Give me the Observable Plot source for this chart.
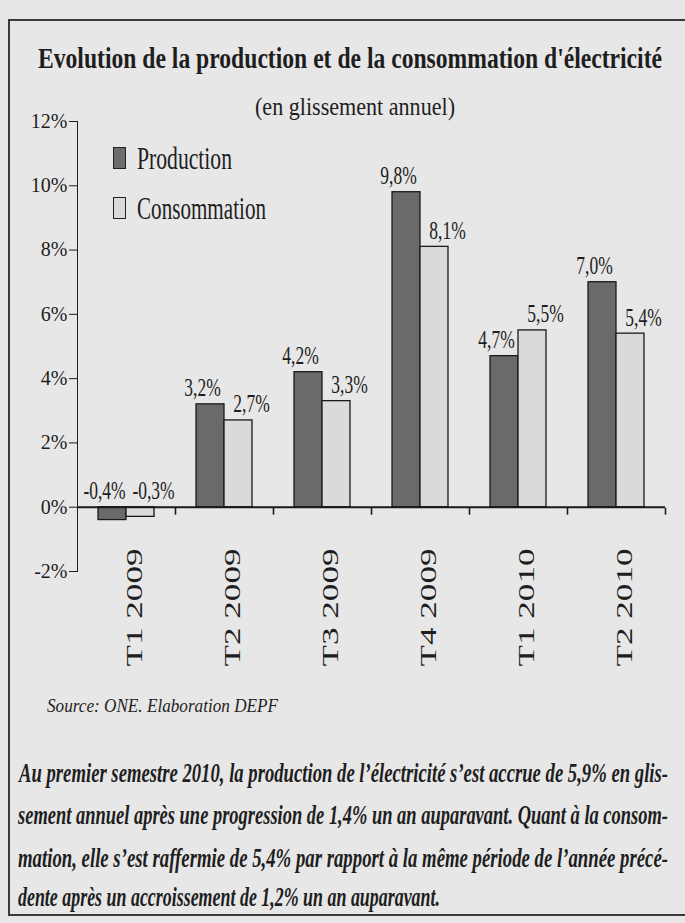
<!DOCTYPE html>
<html><head><meta charset="utf-8">
<script src="https://cdn.jsdelivr.net/npm/d3@7"></script>
<script src="https://cdn.jsdelivr.net/npm/@observablehq/plot@0.6"></script>
<style>
html,body{margin:0;padding:0;}
body{width:685px;height:923px;background:#e7e7e7;position:relative;overflow:hidden;font-family:"Liberation Serif",serif;color:#1e1e1e;}
.box{position:absolute;left:8px;top:19px;width:690px;height:897px;border:2.5px solid #3a3a3a;box-sizing:border-box;}
.fit{position:absolute;white-space:nowrap;transform-origin:0 50%;line-height:1;}
#chart{position:absolute;left:0;top:100px;}
.sw{position:absolute;width:13px;height:22px;border:1.5px solid #222;box-sizing:border-box;}
</style></head><body>
<div class="box"></div>
<div id="chart"></div>
<div id="title" class="fit" style="font-weight:bold;font-size:30px;">Evolution de la production et de la consommation d'électricité</div>
<div id="subtitle" class="fit" style="font-size:25px;">(en glissement annuel)</div>
<div class="sw" style="left:113px;top:147px;background:#6c6c6c;"></div>
<div id="lg1" class="fit" style="font-size:32px;">Production</div>
<div class="sw" style="left:113px;top:197px;background:#dadada;"></div>
<div id="lg2" class="fit" style="font-size:32px;">Consommation</div>
<div id="source" class="fit" style="font-style:italic;font-size:19px;">Source: ONE. Elaboration DEPF</div>
<div id="p1" class="fit" style="font-style:italic;font-weight:bold;font-size:27px;">Au premier semestre 2010, la production de l’électricité s’est accrue de 5,9% en glis-</div>
<div id="p2" class="fit" style="font-style:italic;font-weight:bold;font-size:27px;">sement annuel après une progression de 1,4% un an auparavant. Quant à la consom-</div>
<div id="p3" class="fit" style="font-style:italic;font-weight:bold;font-size:27px;">mation, elle s’est raffermie de 5,4% par rapport à la même période de l’année précé-</div>
<div id="p4" class="fit" style="font-style:italic;font-weight:bold;font-size:27px;">dente après un accroissement de 1,2% un an auparavant.</div>
<script>
const periods = ["T1 2009", "T2 2009", "T3 2009", "T4 2009", "T1 2010", "T2 2010"];
const production = [-0.4, 3.2, 4.2, 9.8, 4.7, 7.0];
const consommation = [-0.3, 2.7, 3.3, 8.1, 5.5, 5.4];
const series = ["Production", "Consommation"];
const yTicks = [-2, 0, 2, 4, 6, 8, 10, 12];
const colors = ["#6a6a6a", "#dadada"];

const data = periods.flatMap((p, i) => [
  {period: p, serie: "Production", value: production[i]},
  {period: p, serie: "Consommation", value: consommation[i]}
]);
const fr = v => v.toFixed(1).replace(".", ",") + "%";

const chart = Plot.plot({
  width: 685, height: 580,
  marginTop: 21, marginBottom: 109, marginLeft: 75, marginRight: 19,
  style: {background: "transparent", fontFamily: "'Liberation Serif', serif", fontSize: "20px", color: "#1e1e1e", overflow: "visible"},
  fx: {domain: periods, padding: 0, label: null, tickSize: 7, tickRotate: -90, tickPadding: -30},
  x: {domain: series, paddingInner: 0, paddingOuter: 0.7, axis: null},
  y: {domain: [-2, 12], ticks: yTicks, tickFormat: d => d + "%", tickSize: 8, tickPadding: 2, line: true, label: null},
  color: {domain: series, range: colors},
  marks: [
    Plot.barY(data, {fx: "period", x: "serie", y: "value", fill: "serie", stroke: "#1a1a1a", strokeWidth: 1.3}),
    Plot.ruleY([0], {stroke: "#1a1a1a", strokeWidth: 2}),
    Plot.text(data.filter(d => d.serie === "Production"), {fx: "period", x: "serie", y: d => Math.max(d.value, 0), text: d => fr(d.value), lineAnchor: "bottom", dy: -8, dx: -8, fontSize: 25, fill: "#1e1e1e"}),
    Plot.text(data.filter(d => d.serie === "Consommation"), {fx: "period", x: "serie", y: d => Math.max(d.value, 0), text: d => fr(d.value), lineAnchor: "bottom", dy: -8, dx: 13, fontSize: 25, fill: "#1e1e1e"})
  ]
});
document.getElementById("chart").appendChild(chart);

const svg = d3.select(chart);
// fx tick marks moved to the band boundaries, on the 0% line
const fxs = chart.scale("fx");
const step = fxs.step || (fxs.range[1] - fxs.range[0]) / fxs.domain.length;
const ys = chart.scale("y");
const shiftY = ys.apply(0) - ys.apply(-2);
svg.selectAll('g[aria-label="fx-axis tick"]').each(function() {
  const t = this.getAttribute("transform") || "";
  this.setAttribute("transform", t + ` translate(${step / 2},${shiftY + 1})`);
  this.setAttribute("stroke", "#1a1a1a");
  this.setAttribute("stroke-width", "1.6");
});
svg.selectAll('g[aria-label="fx-axis tick label"]').each(function() {
  const t = this.getAttribute("transform") || "";
  this.setAttribute("transform", t + " translate(8,0)");
});
svg.selectAll('g[aria-label="fx-axis tick label"] text').each(function() {
  this.style.fontSize = "24px";
  this.style.fontFamily = "'Liberation Serif', serif";
  this.style.fontVariant = "normal";
  this.setAttribute("textLength", 118);
  this.setAttribute("lengthAdjust", "spacingAndGlyphs");
});
// condensed value labels (scaled about their own anchor point)
svg.selectAll('g[aria-label="text"] text').each(function() {
  this.style.fontFamily = "'Liberation Serif', serif";
  const x = +this.getAttribute("x") || 0, y = +this.getAttribute("y") || 0;
  const t = this.getAttribute("transform") || "";
  this.setAttribute("transform", `${t} translate(${x},${y}) scale(0.7,1) translate(${-x},${-y})`);
});
svg.selectAll('g[aria-label="y-axis tick label"] text').each(function() {
  this.style.fontSize = "20px";
  this.style.fontFamily = "'Liberation Serif', serif";
  this.style.fontVariant = "normal";
});

function fit(id, left, cy, w) {
  const el = document.getElementById(id);
  const r = el.getBoundingClientRect();
  el.style.left = left + "px";
  el.style.top = (cy - r.height / 2) + "px";
  el.style.transform = "scaleX(" + (w / r.width) + ")";
}
fit("title", 38, 58, 624);
fit("subtitle", 255, 106, 200);
fit("lg1", 137, 158, 95);
fit("lg2", 137, 208, 129);
fit("source", 47, 705, 231);
fit("p1", 19, 773, 649);
fit("p2", 18, 815, 650);
fit("p3", 18, 858, 650);
fit("p4", 18, 897, 422);
</script>
</body></html>
